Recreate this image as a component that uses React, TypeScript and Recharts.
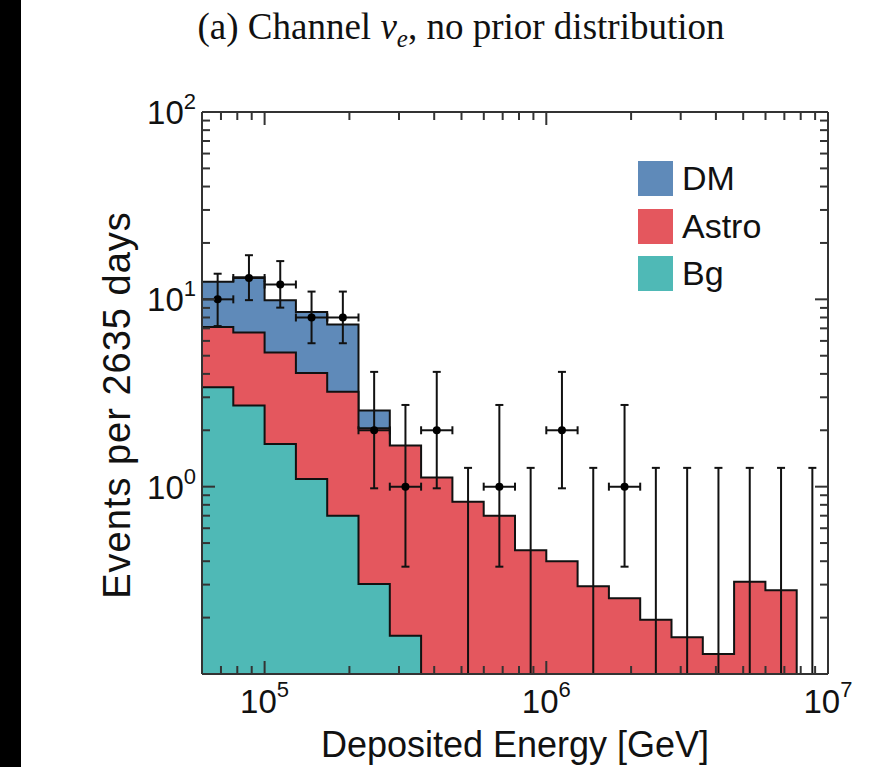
import React from "react";
import { ComposedChart, Area, Scatter, ErrorBar, XAxis, YAxis, Legend } from "recharts";

// 9 log-spaced bins per decade, edges in GeV
const binEdges = [
  59948, 77426, 100000, 129155, 166810, 215443, 278256, 359381, 464159, 599484, 774264,
  1000000, 1291550, 1668101, 2154435, 2782559, 3593814, 4641589, 5994843, 7742637, 10000000,
];

// top of each colour band (stacked total), one value per bin from the left
const dmTop = [12.4, 13.1, 9.9, 8.56, 7.33, 2.55];
const astroTop = [7.12, 6.65, 5.2, 4.04, 3.21, 2.05, 1.66, 1.12, 0.83, 0.7, 0.458, 0.4, 0.294, 0.254, 0.195, 0.157, 0.128, 0.311, 0.28];
const bgTop = [3.39, 2.71, 1.69, 1.1, 0.7, 0.302, 0.16];

// observed events per bin with the drawn confidence interval
const counts = [10, 13, 12, 8, 8, 2, 1, 2, 0, 1, 0, 2, 0, 1, 0, 0, 0, 0, 0, 0];
const countLow = [7.2, 9.9, 9.03, 5.83, 5.83, 0.98, 0.374, 0.98, 0, 0.374, 0, 0.98, 0, 0.374, 0, 0, 0, 0, 0, 0];
const countHigh = [13.7, 17.2, 16.0, 11.0, 11.0, 4.1, 2.73, 4.1, 1.26, 2.73, 1.26, 4.1, 1.26, 2.73, 1.26, 1.26, 1.26, 1.26, 1.26, 1.26];

const xTicks = [
  70000, 80000, 90000, 100000, 200000, 300000, 400000, 500000, 600000, 700000, 800000, 900000,
  1000000, 2000000, 3000000, 4000000, 5000000, 6000000, 7000000, 8000000, 9000000, 10000000,
];
const yTicks = [0.2, 0.3, 0.4, 0.5, 0.6, 0.7, 0.8, 0.9, 1, 2, 3, 4, 5, 6, 7, 8, 9, 10, 20, 30, 40, 50, 60, 70, 80, 90, 100];

const Y_MIN = 0.1;
const Y_MAX = 100;

const colors: Record<string, string> = { DM: "#5f8ab9", Astro: "#e4575e", Bg: "#4fb9b6" };
const legendNames = ["DM", "Astro", "Bg"];

const AXIS = "#333";
const SANS = '"Liberation Sans", Arial, Helvetica, sans-serif';

// band value on each edge; the edge after a band's last bin drops it to the floor
const bandAt = (arr: number[], i: number) => (i < arr.length ? arr[i] : i === arr.length ? Y_MIN : null);
const histRows = binEdges.map((e, i) => ({
  e,
  dm: bandAt(dmTop, i),
  astro: bandAt(astroTop, i),
  bg: bandAt(bgTop, i),
}));

const centers = counts.map((_, i) => Math.sqrt(binEdges[i] * binEdges[i + 1]));
const observed = counts
  .map((n, i) => ({
    e: centers[i],
    y: n,
    ex: [centers[i] - binEdges[i], binEdges[i + 1] - centers[i]],
    ey: [n - countLow[i], countHigh[i] - n],
  }))
  .filter((d) => d.y > 0);
const upperOnly = counts
  .map((n, i) => ({ e: centers[i], y: Y_MIN, n, ey: [0, countHigh[i] - Y_MIN] }))
  .filter((d) => d.n === 0);

function LogTick(props: any) {
  const { x, y, payload, side } = props;
  const v = payload.value as number;
  const exp = Math.round(Math.log10(v));
  const major = Math.abs(Math.log10(v) - exp) < 1e-6;
  const len = major ? 13 : 8;
  let line;
  if (side === "bottom") line = <line x1={x} y1={y} x2={x} y2={y - len} />;
  else if (side === "top") line = <line x1={x} y1={y} x2={x} y2={y + len} />;
  else if (side === "left") line = <line x1={x} y1={y} x2={x + len} y2={y} />;
  else line = <line x1={x} y1={y} x2={x - len} y2={y} />;
  let label = null;
  if (major && side === "bottom") {
    label = (
      <text x={x} y={y + 39} textAnchor="middle" fontFamily={SANS} fontSize={33} fill="#111">
        <tspan>10</tspan>
        <tspan dy={-16} fontSize={22}>{exp}</tspan>
      </text>
    );
  } else if (major && side === "left") {
    label = (
      <text x={x - 6} y={y + 12} textAnchor="end" fontFamily={SANS} fontSize={33} fill="#111">
        <tspan>10</tspan>
        <tspan dy={-15} fontSize={22}>{exp}</tspan>
      </text>
    );
  }
  return (
    <g>
      <g stroke={AXIS} strokeWidth={2}>{line}</g>
      {label}
    </g>
  );
}

function LegendBox(props: any) {
  const items = (props.payload || []).filter((p: any) => legendNames.includes(p.value));
  items.sort((a: any, b: any) => legendNames.indexOf(a.value) - legendNames.indexOf(b.value));
  return (
    <div>
      {items.map((p: any) => (
        <div key={p.value} style={{ display: "flex", alignItems: "center", height: 35, marginBottom: 12.5 }}>
          <div style={{ width: 35, height: 35, background: colors[p.value] }} />
          <span style={{ marginLeft: 9, fontFamily: SANS, fontSize: 34, color: "#111", lineHeight: "35px" }}>
            {p.value}
          </span>
        </div>
      ))}
    </div>
  );
}

export default function App() {
  return (
    <div style={{ position: "absolute", left: 0, top: 0, width: 884, height: 767, background: "#fff", overflow: "hidden" }}>
      <div style={{ position: "absolute", left: 0, top: 0, width: 21, height: 767, background: "#000" }} />
      <div
        style={{
          position: "absolute",
          left: 0,
          top: 7,
          width: 922,
          textAlign: "center",
          fontFamily: '"Liberation Serif", "Times New Roman", serif',
          fontSize: 37,
          lineHeight: "40px",
          color: "#111",
        }}
      >
        (a) Channel <i>ν</i>
        <sub style={{ fontSize: 25, fontStyle: "italic", lineHeight: 0 }}>e</sub>, no prior distribution
      </div>
      <div style={{ position: "absolute", left: 0, top: 0 }}>
        <ComposedChart width={884} height={767} data={histRows} margin={{ top: 111, right: 55, bottom: 0, left: 0 }}>
          <Area type="stepAfter" dataKey="dm" name="DM" fill={colors.DM} fillOpacity={1} stroke="#111" strokeWidth={2}
            baseValue="dataMin" connectNulls={false} dot={false} activeDot={false} isAnimationActive={false} />
          <Area type="stepAfter" dataKey="astro" name="Astro" fill={colors.Astro} fillOpacity={1} stroke="#111" strokeWidth={2}
            baseValue="dataMin" connectNulls={false} dot={false} activeDot={false} isAnimationActive={false} />
          <Area type="stepAfter" dataKey="bg" name="Bg" fill={colors.Bg} fillOpacity={1} stroke="#111" strokeWidth={2}
            baseValue="dataMin" connectNulls={false} dot={false} activeDot={false} isAnimationActive={false} />
          <Scatter data={observed} dataKey="y" legendType="none" isAnimationActive={false}
            shape={(p: any) => <circle cx={p.cx} cy={p.cy} r={4} fill="#000" />}>
            <ErrorBar dataKey="ey" direction="y" width={4} stroke="#111" strokeWidth={2} />
            <ErrorBar dataKey="ex" direction="x" width={4} stroke="#111" strokeWidth={2} />
          </Scatter>
          <Scatter data={upperOnly} dataKey="y" xAxisId="top" yAxisId="right" legendType="none" isAnimationActive={false}
            shape={() => <g />}>
            <ErrorBar dataKey="ey" direction="y" width={4} stroke="#111" strokeWidth={2} />
          </Scatter>
          <XAxis dataKey="e" type="number" scale="log" domain={[binEdges[0], binEdges[binEdges.length - 1]]}
            allowDataOverflow ticks={xTicks} interval={0} height={93} tickSize={0} tickMargin={0} tickLine={false}
            zIndex={700} axisLine={{ stroke: AXIS, strokeWidth: 2 }} tick={(p: any) => <LogTick {...p} side="bottom" />}
            label={{
              content: (lp: any) => {
                const vb = lp.viewBox || { x: 202, y: 674, width: 626, height: 93 };
                return (
                  <text x={vb.x + vb.width / 2} y={vb.y + vb.height - 10} textAnchor="middle" fontFamily={SANS} fontSize={36} fill="#111">
                    Deposited Energy [GeV]
                  </text>
                );
              },
            }} />
          <XAxis xAxisId="top" orientation="top" dataKey="e" type="number" scale="log"
            domain={[binEdges[0], binEdges[binEdges.length - 1]]} allowDataOverflow ticks={xTicks} interval={0}
            height={1} tickSize={0} tickMargin={0} tickLine={false} zIndex={700} axisLine={{ stroke: AXIS, strokeWidth: 2 }}
            tick={(p: any) => <LogTick {...p} side="top" />} />
          <YAxis type="number" scale="log" domain={[Y_MIN, Y_MAX]} allowDataOverflow ticks={yTicks} interval={0}
            width={202} tickSize={0} tickMargin={0} tickLine={false} zIndex={700} axisLine={{ stroke: AXIS, strokeWidth: 2 }}
            tick={(p: any) => <LogTick {...p} side="left" />}
            label={{
              content: (lp: any) => {
                const vb = lp.viewBox || { x: 0, y: 112, width: 202, height: 562 };
                const cx = vb.x + 130;
                const cy = vb.y + vb.height / 2 + 12;
                return (
                  <text x={cx} y={cy} transform={`rotate(-90 ${cx} ${cy})`} textAnchor="middle" fontFamily={SANS}
                    fontSize={38} letterSpacing={1} fill="#111">
                    Events per 2635 days
                  </text>
                );
              },
            }} />
          <YAxis yAxisId="right" orientation="right" type="number" scale="log" domain={[Y_MIN, Y_MAX]} allowDataOverflow
            ticks={yTicks} interval={0} width={1} tickSize={0} tickMargin={0} tickLine={false} zIndex={700}
            axisLine={{ stroke: AXIS, strokeWidth: 2 }} tick={(p: any) => <LogTick {...p} side="right" />} />
          <Legend layout="vertical" align="center" verticalAlign="middle" content={<LegendBox />}
            wrapperStyle={{ left: 638, top: 161, width: 160, height: 140 }} />
        </ComposedChart>
      </div>
    </div>
  );
}
